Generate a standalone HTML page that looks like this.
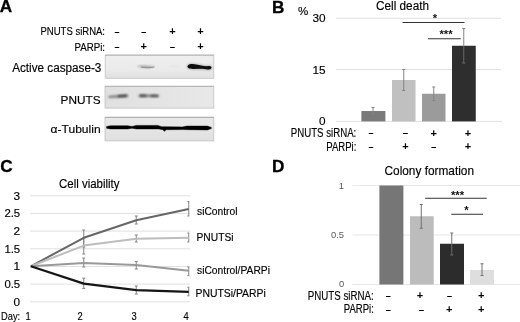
<!DOCTYPE html>
<html>
<head>
<meta charset="utf-8">
<title>Figure</title>
<style>
html,body{margin:0;padding:0;background:#fff;}
body{width:520px;height:322px;overflow:hidden;}
svg{display:block;font-family:"Liberation Sans",sans-serif;}
.t{font-size:11.8px;fill:#000;stroke:#000;stroke-width:0.15;}
.pl{font-size:17.2px;font-weight:bold;fill:#000;stroke:#000;stroke-width:0.3;}
.sg{font-size:11px;font-weight:bold;fill:#000;text-anchor:middle;}
.dg{font-size:8px;font-weight:bold;fill:#000;stroke:#000;stroke-width:0.5;text-anchor:middle;}
.gl{stroke:#e0e0e0;stroke-width:1;}
.eb{stroke:#858585;stroke-width:1;fill:none;}
.sl{stroke:#333;stroke-width:1;}
.st{font-size:11.3px;font-weight:bold;fill:#111;text-anchor:middle;}
</style>
</head>
<body>
<svg width="520" height="322" viewBox="0 0 520 322">
<defs>
<filter id="b1" filterUnits="userSpaceOnUse" x="100" y="50" width="120" height="95"><feGaussianBlur stdDeviation="0.9"/></filter>
<filter id="b2" filterUnits="userSpaceOnUse" x="100" y="50" width="120" height="95"><feGaussianBlur stdDeviation="0.6"/></filter>
<filter id="b3" filterUnits="userSpaceOnUse" x="100" y="50" width="120" height="95"><feGaussianBlur stdDeviation="1.3"/></filter>
<filter id="b4" filterUnits="userSpaceOnUse" x="100" y="50" width="120" height="95"><feGaussianBlur stdDeviation="0.45"/></filter>
<linearGradient id="bg1" x1="0" y1="0" x2="0" y2="1"><stop offset="0" stop-color="#efefef"/><stop offset="0.6" stop-color="#ebebeb"/><stop offset="1" stop-color="#e0e0e0"/></linearGradient>
<linearGradient id="bg2" x1="0" y1="0" x2="1" y2="0"><stop offset="0" stop-color="#e0e0e0"/><stop offset="1" stop-color="#e8e8e8"/></linearGradient>
<linearGradient id="bg3" x1="0" y1="0" x2="0" y2="1"><stop offset="0" stop-color="#e9e9e9"/><stop offset="1" stop-color="#e0e0e0"/></linearGradient>
</defs>
<rect width="520" height="322" fill="#fff"/>

<!-- ===== Panel A ===== -->
<g id="panelA">
<text class="pl" x="-0.2" y="12.3">A</text>
<text class="t" x="105" y="35" text-anchor="end" textLength="64.5" lengthAdjust="spacingAndGlyphs">PNUTS siRNA:</text>
<text class="t" x="105" y="50.5" text-anchor="end" textLength="30.5" lengthAdjust="spacingAndGlyphs">PARPi:</text>
<text class="dg" x="117" y="33.7">–</text>
<text class="dg" x="143.75" y="33.7">–</text>
<text class="sg" x="172.5" y="35">+</text>
<text class="sg" x="200.5" y="35">+</text>
<text class="dg" x="117" y="49">–</text>
<text class="sg" x="143.75" y="50">+</text>
<text class="dg" x="172.5" y="49">–</text>
<text class="sg" x="200.5" y="50">+</text>

<text class="t" x="101.4" y="72" text-anchor="end" style="font-size:12px" textLength="89.2" lengthAdjust="spacingAndGlyphs">Active caspase-3</text>
<text class="t" x="100.6" y="104.25" text-anchor="end">PNUTS</text>
<text class="t" x="100.6" y="133.4" text-anchor="end" textLength="50" lengthAdjust="spacingAndGlyphs">α-Tubulin</text>

<!-- blot 1 -->
<rect x="105.2" y="55" width="108.6" height="23.3" fill="url(#bg1)" stroke="#c4c4c4" stroke-width="0.8"/>
<line x1="105" x2="213.8" y1="55.2" y2="55.2" stroke="#b0b0b0" stroke-width="0.9"/>
<path d="M137,66.2 C141,65.2 148,66.4 154.8,66.6 C152,68.2 146,68 142,67.3 C139.5,66.9 137.5,66.8 137,66.2 Z" fill="#8e8e8e" filter="url(#b1)"/>
<path d="M141,67 C145,67.8 150,67.9 154.5,66.9" stroke="#888" stroke-width="0.9" fill="none" filter="url(#b2)"/>
<ellipse cx="175" cy="66.3" rx="6.5" ry="0.9" fill="#e2e2e2" filter="url(#b1)"/>
<path d="M187.5,66.3 C188,64.3 191,63.9 194,64.2 C199,64.8 203,66 207,66.2 C209.5,65.8 211.7,66.4 211.5,67.8 C211.4,69.6 209,69.8 206,69.2 C201,68.6 197,69 193,68.9 C189.5,68.8 187.2,68 187.5,66.3 Z" fill="#777" stroke="#888" stroke-width="1.6" opacity="0.55" filter="url(#b3)"/>
<path d="M187.5,66.3 C188,64.3 191,63.9 194,64.2 C199,64.8 203,66 207,66.2 C209.5,65.8 211.7,66.4 211.5,67.8 C211.4,69.6 209,69.8 206,69.2 C201,68.6 197,69 193,68.9 C189.5,68.8 187.2,68 187.5,66.3 Z" fill="#080808" filter="url(#b4)"/>
<!-- blot 2 -->
<rect x="105" y="86.2" width="108.8" height="21.9" fill="url(#bg2)" stroke="#c0c0c0" stroke-width="0.8"/>
<line x1="105" x2="213.8" y1="86.4" y2="86.4" stroke="#b0b0b0" stroke-width="0.9"/>
<path d="M109.5,96.9 L127,95.8" stroke="#7a7a7a" stroke-width="2.4" stroke-linecap="round" fill="none" filter="url(#b1)"/>
<path d="M118.5,96.2 L126,95.8" stroke="#444" stroke-width="1.9" stroke-linecap="round" fill="none" filter="url(#b1)"/>
<path d="M139.8,95.7 L158,95.9" stroke="#7a7a7a" stroke-width="2.4" stroke-linecap="round" fill="none" filter="url(#b1)"/>
<path d="M140.5,95.7 L145.5,95.8 M151.5,95.9 L157,95.9" stroke="#4a4a4a" stroke-width="1.9" stroke-linecap="round" fill="none" filter="url(#b1)"/>
<!-- blot 3 -->
<rect x="105" y="117.2" width="108.8" height="23.7" fill="url(#bg3)" stroke="#c0c0c0" stroke-width="0.8"/>
<line x1="105" x2="213.8" y1="117.4" y2="117.4" stroke="#a8a8a8" stroke-width="0.9"/>
<path d="M106.6,126.5 L110.5,125.8 L127.7,125.8 L132,126.5 L136.3,125.4 L157.8,125.4 L161.7,126.7 L182.6,126.9 L186.9,126.1 L207.4,126.1 L211.3,127.4 L211.3,128.6 L207.4,129.9 L188,129.7 L183.7,129.6 L166.3,129.7 L164.3,131.3 L162.8,129.7 L158.9,128.9 L136.3,128.9 L132,128.2 L127.7,128.9 L110.5,128.9 L106.6,128.2 Z" fill="#050505" stroke="#050505" stroke-width="0.5" stroke-linejoin="round" filter="url(#b4)"/>
</g>

<!-- ===== Panel B ===== -->
<g id="panelB">
<text class="pl" x="272" y="12.6">B</text>
<text class="t" x="298" y="15" style="font-size:11.5px">%</text>
<text class="t" x="376" y="9.6" style="font-size:12px" textLength="53" lengthAdjust="spacingAndGlyphs">Cell death</text>
<line class="gl" x1="336" x2="501" y1="18.25" y2="18.25"/>
<line class="gl" x1="336" x2="501" y1="69.6" y2="69.6"/>
<line class="gl" x1="336" x2="502" y1="121.4" y2="121.4"/>
<text class="t" x="325.5" y="22.2" text-anchor="end">30</text>
<text class="t" x="325.5" y="73.8" text-anchor="end">15</text>
<text class="t" x="325.5" y="125.2" text-anchor="end">0</text>
<rect x="361.4" y="111" width="24" height="10.4" fill="#7a7a7a"/>
<rect x="392" y="80" width="23.5" height="41.4" fill="#c0c0c0"/>
<rect x="422" y="93.75" width="23.5" height="27.65" fill="#9b9b9b"/>
<rect x="452" y="45.75" width="23.75" height="75.65" fill="#2e2e2e"/>
<path class="eb" d="M373 107.5V114M371.5 107.5h3M371.5 114h3"/>
<path class="eb" d="M403.75 69.5V90.5M402.25 69.5h3M402.25 90.5h3"/>
<path class="eb" d="M433.75 87V100.5M432.25 87h3M432.25 100.5h3"/>
<path class="eb" d="M463.75 28.5V45.75M462.25 28.5h3"/><path class="eb" style="stroke:#6a6a6a" d="M463.75 45.75V63M462.25 63h3"/>
<line class="sl" x1="402.5" x2="464.5" y1="22.5" y2="22.5"/>
<line class="sl" x1="428" x2="460.75" y1="38.75" y2="38.75"/>
<text class="st" x="435" y="22.3">*</text>
<text class="st" x="446" y="38.3">***</text>
<text class="t" x="356.3" y="137" text-anchor="end" style="font-size:12px" textLength="65.5" lengthAdjust="spacingAndGlyphs">PNUTS siRNA:</text>
<text class="t" x="356.3" y="150.5" text-anchor="end" style="font-size:12px" textLength="30" lengthAdjust="spacingAndGlyphs">PARPi:</text>
<text class="dg" x="371" y="135.1">–</text>
<text class="dg" x="405.5" y="135.1">–</text>
<text class="sg" x="433.75" y="136.6">+</text>
<text class="sg" x="468" y="136.6">+</text>
<text class="dg" x="371" y="148.9">–</text>
<text class="sg" x="405.5" y="150.2">+</text>
<text class="dg" x="433.75" y="148.9">–</text>
<text class="sg" x="468" y="150.2">+</text>
</g>

<!-- ===== Panel C ===== -->
<g id="panelC">
<text class="pl" x="0.3" y="172.2">C</text>
<text class="t" x="59" y="188.3" style="font-size:12px" textLength="60.5" lengthAdjust="spacingAndGlyphs">Cell viability</text>
<g class="gl">
<line x1="30" x2="190" y1="195.75" y2="195.75"/>
<line x1="30" x2="190" y1="213.4" y2="213.4"/>
<line x1="30" x2="190" y1="231.1" y2="231.1"/>
<line x1="30" x2="190" y1="248.8" y2="248.8"/>
<line x1="30" x2="190" y1="266.45" y2="266.45"/>
<line x1="30" x2="190" y1="284.1" y2="284.1"/>
<line x1="30" x2="190" y1="301.8" y2="301.8"/>
</g>
<g class="t" text-anchor="end">
<text x="20" y="199.8">3</text>
<text x="20.2" y="217.4" textLength="15.8" lengthAdjust="spacingAndGlyphs">2.5</text>
<text x="20" y="235.1">2</text>
<text x="20.2" y="252.7" textLength="15.8" lengthAdjust="spacingAndGlyphs">1.5</text>
<text x="20" y="270.4">1</text>
<text x="20.2" y="288" textLength="15.8" lengthAdjust="spacingAndGlyphs">0.5</text>
<text x="20" y="305.6">0</text>
</g>
<text class="t" x="1" y="320.3" textLength="19.2" lengthAdjust="spacingAndGlyphs">Day:</text>
<g class="t" text-anchor="middle">
<text x="28.2" y="320.3" textLength="5.2" lengthAdjust="spacingAndGlyphs">1</text>
<text x="80" y="320.3" textLength="5.2" lengthAdjust="spacingAndGlyphs">2</text>
<text x="134" y="320.3" textLength="5.2" lengthAdjust="spacingAndGlyphs">3</text>
<text x="186" y="320.1" textLength="5.2" lengthAdjust="spacingAndGlyphs">4</text>
</g>
<!-- error bars -->
<path class="eb" d="M83.75 230V247M82.25 230h3M82.25 247h3"/>
<path class="eb" d="M83.75 238V254M82.25 238h3M82.25 254h3"/>
<path class="eb" d="M83.75 258V267M82.25 258h3M82.25 267h3"/>
<path class="eb" d="M83.75 278.2V288.4M82.25 278.2h3M82.25 288.4h3"/>
<path class="eb" d="M136.25 216V224M134.75 216h3M134.75 224h3"/>
<path class="eb" d="M136.25 235V242M134.75 235h3M134.75 242h3"/>
<path class="eb" d="M136.25 261.5V269M134.75 261.5h3M134.75 269h3"/>
<path class="eb" d="M136.25 286V294M134.75 286h3M134.75 294h3"/>
<path class="eb" d="M188.75 201.5V216M187.25 201.5h2M187.25 216h2"/>
<path class="eb" d="M188.75 233V242M187.25 233h2M187.25 242h2"/>
<path class="eb" d="M188.75 267V275.6M187.25 267h2M187.25 275.6h2"/>
<path class="eb" d="M188.75 287.2V295.8M187.25 287.2h2M187.25 295.8h2"/>
<polyline points="30.8,266.3 83.75,237.8 136.25,220.2 188.75,208.9" fill="none" stroke="#666" stroke-width="2" stroke-linejoin="round"/>
<polyline points="30.8,266.3 83.75,245.6 136.25,238.8 188.75,237.8" fill="none" stroke="#bdbdbd" stroke-width="2" stroke-linejoin="round"/>
<polyline points="30.8,266.3 83.75,263.1 136.25,265.1 188.75,270.7" fill="none" stroke="#999" stroke-width="2" stroke-linejoin="round"/>
<polyline points="30.8,266.3 83.75,283.6 136.25,290.2 188.75,291.9" fill="none" stroke="#151515" stroke-width="2.2" stroke-linejoin="round"/>
<text class="t" x="197" y="214.5" style="font-size:10.8px" textLength="40.5" lengthAdjust="spacingAndGlyphs">siControl</text>
<text class="t" x="196.5" y="240.8" style="font-size:10.8px" textLength="37" lengthAdjust="spacingAndGlyphs">PNUTSi</text>
<text class="t" x="197" y="273.9" style="font-size:10.8px" textLength="73" lengthAdjust="spacingAndGlyphs">siControl/PARPi</text>
<text class="t" x="195.5" y="297.2" style="font-size:10.8px" textLength="70.3" lengthAdjust="spacingAndGlyphs">PNUTSi/PARPi</text>
</g>

<!-- ===== Panel D ===== -->
<g id="panelD">
<text class="pl" x="272" y="171.5">D</text>
<text class="t" x="384.5" y="174.7" style="font-size:12.4px" textLength="89.5" lengthAdjust="spacingAndGlyphs">Colony formation</text>
<line class="gl" x1="352.5" x2="520" y1="185.5" y2="185.5" style="stroke:#e8e8e8"/>
<line class="gl" x1="352.5" x2="520" y1="235" y2="235" style="stroke:#e6e6e6"/>
<line class="gl" x1="352.5" x2="520" y1="284.6" y2="284.6" style="stroke:#e4e4e4"/>
<g style="font-size:9.4px;fill:#5a5a5a" text-anchor="end">
<text x="344" y="188.8">1</text>
<text x="344" y="238.4">0.5</text>
<text x="344.3" y="287.2">0</text>
</g>
<rect x="379.4" y="185.5" width="24" height="99" fill="#767676"/>
<rect x="410" y="216.25" width="23.7" height="68.25" fill="#bcbcbc"/>
<rect x="440" y="243.75" width="24" height="40.75" fill="#2c2c2c"/>
<rect x="470" y="270" width="24" height="14.5" fill="#dedede"/>
<path class="eb" style="stroke:#707070" d="M421.25 204.5V228.25M419.75 204.5h3M419.75 228.25h3"/>
<path class="eb" style="stroke:#707070" d="M451.75 233V243.75M450.25 233h3"/><path class="eb" style="stroke:#6a6a6a" d="M451.75 243.75V255M450.25 255h3"/>
<path class="eb" style="stroke:#707070" d="M482 263.75V275.5M480.5 263.75h3M480.5 275.5h3"/>
<line class="sl" x1="425.2" x2="486.75" y1="198.25" y2="198.25"/>
<line class="sl" x1="451.25" x2="483" y1="214.25" y2="214.25"/>
<text class="st" x="457.5" y="198.8">***</text>
<text class="st" x="466.4" y="213.8">*</text>
<text class="t" x="373.8" y="299.8" text-anchor="end" style="font-size:12px" textLength="66" lengthAdjust="spacingAndGlyphs">PNUTS siRNA:</text>
<text class="t" x="373.8" y="313.4" text-anchor="end" style="font-size:12px" textLength="30" lengthAdjust="spacingAndGlyphs">PARPi:</text>
<text class="dg" x="388.3" y="297.7">–</text>
<text class="sg" x="420" y="298.5">+</text>
<text class="dg" x="449.4" y="297.9">–</text>
<text class="sg" x="481.25" y="298.5">+</text>
<text class="dg" x="388.3" y="311.7">–</text>
<text class="dg" x="421.6" y="311.8">–</text>
<text class="sg" x="449.25" y="312.9">+</text>
<text class="sg" x="481.25" y="312.9">+</text>
</g>
</svg>
</body>
</html>
